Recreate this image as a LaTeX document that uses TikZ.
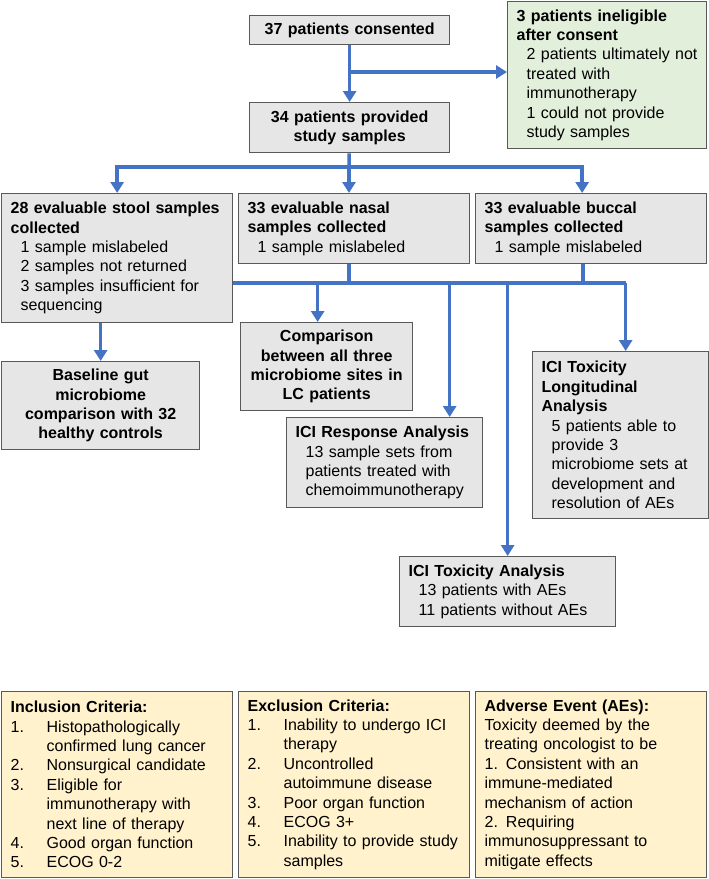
\documentclass[tikz,border=0pt]{standalone}
\usepackage{fontspec}
\setmainfont{Liberation Sans}
\usetikzlibrary{arrows.meta,positioning}

\definecolor{flowblue}{HTML}{4472C4}
\definecolor{boxgray}{HTML}{E7E6E6}
\definecolor{boxline}{HTML}{595959}
\definecolor{boxgreen}{HTML}{E2EFDA}
\definecolor{boxyellow}{HTML}{FFF2CC}

\newcommand{\indt}{\hspace*{10pt}}
\newcommand{\itemno}[1]{\makebox[36pt][l]{#1}}
\newcommand{\itemgap}{\hspace*{36pt}}

\begin{document}
\begin{tikzpicture}[x=1pt,y=-1pt,
	box/.style={draw=boxline,line width=1.3pt,fill=boxgray,anchor=north west,inner xsep=9pt,inner ysep=0pt,align=left,font=\fontsize{16}{19.4}\selectfont},
	mid/.style={box,align=center},
	flow/.style={draw=flowblue,line width=3.5pt,-{Triangle[width=13pt,length=11pt]}},
	wire/.style={draw=flowblue,line width=3.5pt}]

	\useasboundingbox (0,0) rectangle (709,879);

	\node[mid, minimum width=200pt, minimum height=29pt, text width=182pt] (consent) at (249,15) {\textbf{37 patients consented}};
	\node[box, fill=boxgreen, minimum width=199pt, minimum height=147pt, text width=181pt] (inelig) at (507,1) {\textbf{3 patients ineligible}\\\textbf{after consent}\\\indt 2 patients ultimately not\\\indt treated with\\\indt immunotherapy\\\indt 1 could not provide\\\indt study samples};
	\node[mid, minimum width=200pt, minimum height=50pt, text width=182pt] (provided) at (249,102) {\textbf{34 patients provided}\\\textbf{study samples}};

	\node[box, minimum width=231pt, minimum height=129pt, text width=213pt] (stool) at (1,193) {\textbf{28 evaluable stool samples}\\\textbf{collected}\\\indt 1 sample mislabeled\\\indt 2 samples not returned\\\indt 3 samples insufficient for\\\indt sequencing};
	\node[box, minimum width=231pt, minimum height=70pt, text width=213pt] (nasal) at (238,193) {\textbf{33 evaluable nasal}\\\textbf{samples collected}\\\indt 1 sample mislabeled};
	\node[box, minimum width=231pt, minimum height=70pt, text width=213pt] (buccal) at (475,193) {\textbf{33 evaluable buccal}\\\textbf{samples collected}\\\indt 1 sample mislabeled};

	\node[mid, minimum width=172pt, minimum height=88pt, text width=154pt] (compare) at (240,322) {\textbf{Comparison}\\\textbf{between all three}\\\textbf{microbiome sites in}\\\textbf{LC patients}};
	\node[mid, minimum width=198pt, minimum height=88pt, text width=180pt] (baseline) at (1,361) {\textbf{Baseline gut}\\\textbf{microbiome}\\\textbf{comparison with 32}\\\textbf{healthy controls}};
	\node[box, minimum width=196pt, minimum height=90pt, text width=178pt] (respo) at (286,417) {\textbf{ICI Response Analysis}\\\indt 13 sample sets from\\\indt patients treated with\\\indt chemoimmunotherapy};
	\node[box, minimum width=176pt, minimum height=167pt, text width=158pt] (longi) at (532,351) {\textbf{ICI Toxicity}\\\textbf{Longitudinal}\\\textbf{Analysis}\\\indt 5 patients able to\\\indt provide 3\\\indt microbiome sets at\\\indt development and\\\indt resolution of AEs};
	\node[box, minimum width=216pt, minimum height=70pt, text width=198pt] (toxic) at (399,556) {\textbf{ICI Toxicity Analysis}\\\indt 13 patients with AEs\\\indt 11 patients without AEs};

	\node[box, fill=boxyellow, minimum width=231pt, minimum height=186pt, text width=213pt] (incl) at (1,691) {\textbf{Inclusion Criteria:}\\\itemno{1.}Histopathologically\\\itemgap confirmed lung cancer\\\itemno{2.}Nonsurgical candidate\\\itemno{3.}Eligible for\\\itemgap immunotherapy with\\\itemgap next line of therapy\\\itemno{4.}Good organ function\\\itemno{5.}ECOG 0-2};
	\node[box, fill=boxyellow, minimum width=231pt, minimum height=186pt, text width=213pt] (excl) at (238,691) {\textbf{Exclusion Criteria:}\\\itemno{1.}Inability to undergo ICI\\\itemgap therapy\\\itemno{2.}Uncontrolled\\\itemgap autoimmune disease\\\itemno{3.}Poor organ function\\\itemno{4.}ECOG 3+\\\itemno{5.}Inability to provide study\\\itemgap samples};
	\node[box, fill=boxyellow, minimum width=231pt, minimum height=186pt, text width=213pt] (adverse) at (475,691) {\textbf{Adverse Event (AEs):}\\Toxicity deemed by the\\treating oncologist to be\\1. Consistent with an\\immune-mediated\\mechanism of action\\2. Requiring\\immunosuppressant to\\mitigate effects};

	% first split
	\coordinate (split1) at (349,72);
	\draw[flow] (consent) -- (provided);
	\draw[flow] (split1) -- (split1 -| inelig.west);

	% three sample sites
	\coordinate (split2) at (349,167);
	\draw[wire] (provided) -- (split2);
	\draw[flow] (split2) -| (stool);
	\draw[flow] (split2) -- (split2 |- nasal.north);
	\draw[flow] (split2) -| ([xshift=-9pt]buccal.north);

	% analyses
	\coordinate (bus) at (0,283);
	\draw[wire] (nasal.south -| split2) -- (split2 |- bus);
	\draw[wire] ([xshift=-8pt]buccal.south) -- ([xshift=-8pt]buccal.south |- bus);
	\draw[wire] (stool.east |- bus) -- ([xshift=5pt]longi.north |- bus);
	\draw[flow] ([xshift=-9pt]compare.north |- bus) -- ([xshift=-9pt]compare.north);
	\draw[flow] ([xshift=65pt]respo.north |- bus) -- ([xshift=65pt]respo.north);
	\draw[flow] (toxic.north |- bus) -- (toxic);
	\draw[flow] ([xshift=5pt]longi.north |- bus) -- ([xshift=5pt]longi.north);
	\draw[flow] (stool.south -| baseline.north) -- (baseline);

\end{tikzpicture}
\end{document}
